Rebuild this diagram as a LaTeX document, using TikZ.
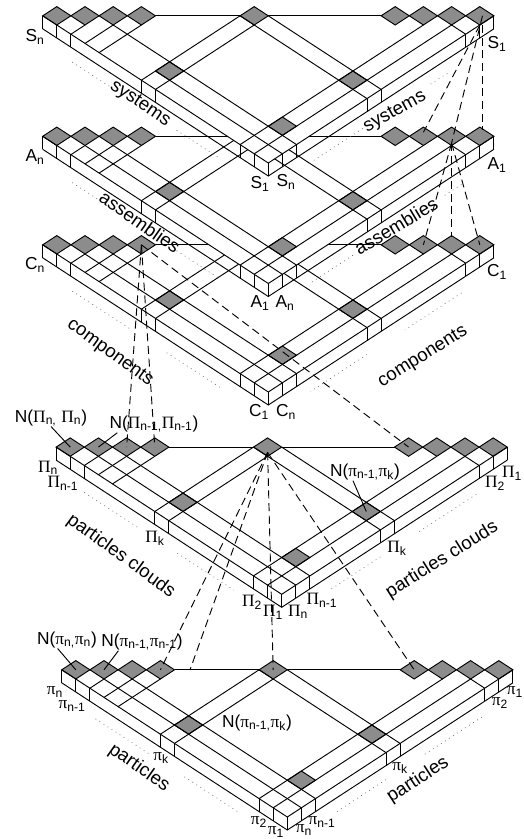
\documentclass[tikz,border=0pt]{standalone}
\usepackage{xcolor}
\usepackage{fontspec}
\setmainfont{Liberation Sans}
\newfontfamily\grk{Liberation Serif}
\usepackage{tikz}

\newcommand{\Pg}{{\grk Π}}
\newcommand{\pg}{{\grk π}}
\newcommand{\dn}[1]{\textsubscript{#1}}

\newcommand{\layer}[5]{%
  \begin{scope}[shift={(#2)}, x={(-10.575pt,6.9pt)}, y={(10.575pt,6.9pt)}]
    \fill[white] (16,0) -- (0,0) -- (0,16) -- cycle;
    \foreach \k in {0,1,2,3,7,12,13,14,15} {
      \draw[cell] (15-\k,\k) -- (16-\k,\k) -- (16-\k,\k+1) -- (15-\k,\k+1) -- cycle;
      \coordinate (#1c\k) at (15.5-\k,\k+.5);
    }
    \foreach \i/\j in {8/1,1/7,1/2} {
      \draw[cell] (\i,\j) -- (\i+1,\j) -- (\i+1,\j+1) -- (\i,\j+1) -- cycle;
      \coordinate (#1x\i\j) at (\i+.5,\j+.5);
    }
    \draw[edge] (16,0) -- (0,0) -- (0,16);
    \draw[edge] ([yshift=-9.75pt]16,0) -- ([yshift=-9.75pt]0,0) -- ([yshift=-9.75pt]0,16);
    \foreach \i in {16,15,14,9,8,2,1,0}
      \draw[edge] (\i,0) -- ++(0pt,-9.75pt);
    \foreach \j in {1,2,7,8,14,15,16}
      \draw[edge] (0,\j) -- ++(0pt,-9.75pt);
    \draw[edge] (12,4) -- (9,7);
    \draw[edge] (8,8) -- (4,12);
    \draw[edge] (14,0) -- (14,1);
    \draw[edge] (13,0) -- (13,2);
    \draw[edge] (12,0) -- (12,3);
    \draw[edge] (9,0) -- (9,7);
    \draw[edge] (8,0) -- (8,7);
    \draw[edge] (2,0) -- (2,13);
    \draw[edge] (1,0) -- (1,14);
    \draw[edge] (0,1) -- (#5,1);
    \draw[edge] (0,2) -- (13,2);
    \draw[edge] (0,7) -- (9,7);
    \draw[edge] (0,8) -- (8,8);
    \draw[edge] (0,14) -- (1,14);
    \foreach \a/\b in {#3}
      \draw[dots] ([yshift=-20.25pt]\a,0) -- ([yshift=-20.25pt]\b,0);
    \foreach \a/\b in {#4}
      \draw[dots] ([yshift=-20.25pt]0,\a) -- ([yshift=-20.25pt]0,\b);
  \end{scope}
}

\begin{document}
\begin{tikzpicture}[
  x=0.75pt, y=-0.75pt,
  edge/.style={draw=black, line width=0.7pt},
  cell/.style={draw=black, fill=black!45, line width=0.7pt},
  dots/.style={draw=black!60, line width=0.5pt, dash pattern=on 0.6pt off 3pt},
  link/.style={draw=black, line width=0.7pt, dash pattern=on 6pt off 3.5pt},
  lab/.style={inner sep=0pt, font=\fontsize{13}{15}\selectfont},
  side/.style={inner sep=0pt, font=\fontsize{14}{16}\selectfont}
]
\useasboundingbox (0,0) rectangle (524,839);

\layer{C}{268.3,392}{13.9/9.8,7.2/3.4}{13.7/9.7,7/3}{14}
\layer{A}{268.3,283.5}{13.9/11.9,6.5/3.4}{13.7/12.5,6/3}{14}
\layer{S}{268.3,163}{13.9/11.2,6.5/3.4}{12.7/11.5,6.7/3}{9}
\layer{Q}{281.7,594.3}{14/10.2,7.4/3.4}{13.8/9.7,7/3.3}{14}
\layer{R}{287.3,817}{13.6/9.7,7.3/3.5}{13.8/9.6,7/3.3}{14}

\node[lab] (sn)   at (35,37)   {S\dn{n}};
\node[lab] (s1)   at (497,44)  {S\dn{1}};
\node[lab] (s1b)  at (260,184) {S\dn{1}};
\node[lab] (snb)  at (286,182) {S\dn{n}};
\node[side, rotate=-34] (sysl) at (140,104) {systems};
\node[side, rotate=29]  (sysr) at (395,112) {systems};

\node[lab] (an)   at (35,157)  {A\dn{n}};
\node[lab] (a1)   at (497,165) {A\dn{1}};
\node[lab] (a1b)  at (260,303) {A\dn{1}};
\node[lab] (anb)  at (285,303) {A\dn{n}};
\node[side, rotate=-35] (assl) at (140,222) {assemblies};
\node[side, rotate=31]  (assr) at (396,226) {assemblies};

\node[lab] (cn)   at (35,265)  {C\dn{n}};
\node[lab] (c1)   at (497,272) {C\dn{1}};
\node[lab] (c1b)  at (259,412) {C\dn{1}};
\node[lab] (cnb)  at (286,412) {C\dn{n}};
\node[side, rotate=-36] (coml) at (110,353) {components};
\node[side, rotate=32]  (comr) at (423,357) {components};

\node[lab] (nqq)  at (51,418)  {N(\Pg\dn{n,} \Pg\dn{n})};
\node[lab] (nqm)  at (154,424) {N(\Pg\dn{n-1,}\Pg\dn{n-1})};
\node[lab] (nqk)  at (365,472) {N(\pg\dn{n-1,}\pg\dn{k})};
\node[lab] (qn)   at (48,468)  {\Pg\dn{n}};
\node[lab] (qm)   at (63,483)  {\Pg\dn{n-1}};
\node[lab] (qk)   at (155,538) {\Pg\dn{k}};
\node[lab] (qkr)  at (397,548) {\Pg\dn{k}};
\node[lab] (q2r)  at (495,483) {\Pg\dn{2}};
\node[lab] (q1r)  at (512,473) {\Pg\dn{1}};
\node[lab] (q2)   at (252,602) {\Pg\dn{2}};
\node[lab] (q1)   at (273,612) {\Pg\dn{1}};
\node[lab] (qnb)  at (298,612) {\Pg\dn{n}};
\node[lab] (qmb)  at (322,600) {\Pg\dn{n-1}};
\node[side, rotate=-36] (pcl) at (121,556) {particles clouds};
\node[side, rotate=32]  (pcr) at (442,560) {particles clouds};

\node[lab] (nrr)  at (67,640)  {N(\pg\dn{n,}\pg\dn{n})};
\node[lab] (nrm)  at (142,642) {N(\pg\dn{n-1,}\pg\dn{n-1})};
\node[lab] (nrk)  at (257,723) {N(\pg\dn{n-1,}\pg\dn{k})};
\node[lab] (rn)   at (55,692)  {\pg\dn{n}};
\node[lab] (rm)   at (72,706)  {\pg\dn{n-1}};
\node[lab] (rk)   at (161,758) {\pg\dn{k}};
\node[lab] (rkr)  at (400,768) {\pg\dn{k}};
\node[lab] (r2r)  at (500,703) {\pg\dn{2}};
\node[lab] (r1r)  at (515,692) {\pg\dn{1}};
\node[lab] (r2)   at (259,822) {\pg\dn{2}};
\node[lab] (r1)   at (276,832) {\pg\dn{1}};
\node[lab] (rnb)  at (304,830) {\pg\dn{n}};
\node[lab] (rmb)  at (322,822) {\pg\dn{n-1}};
\node[side, rotate=-35] (parl) at (139,768) {particles};
\node[side, rotate=33]  (parr) at (418,780) {particles};

% label leaders
\draw[edge] (nqq.south) -- (Qc0);
\draw[edge] ([xshift=6pt]nqm.south west) -- (Qc1);
\draw[edge] ([xshift=-9pt]nqk.south) -- (Qx17);
\draw[edge] ([xshift=-7pt]nrr.south) -- (Rc0);
\draw[edge] ([xshift=13pt]nrm.south west) -- (Rc1);

% links between levels
\coordinate (rtop) at (190,670);
\draw[link] ([yshift=-7pt]Sc15) -- ([yshift=3pt]Ac13);
\draw[link] ([xshift=2pt]Sc15) -- ([yshift=-5pt]Ac14);
\draw[link] ([xshift=2pt,yshift=-7pt]Sc15) -- ([xshift=2pt,yshift=5pt]Ac15);
\draw[link] ([yshift=-5pt]Ac14) -- (Cc13);
\draw[link] ([yshift=-5pt]Ac14) -- ([yshift=6pt]Cc14);
\draw[link] ([yshift=-5pt]Ac14) -- (Cc15);
\draw[link] (Cc3) -- (Qc2);
\draw[link] (Cc3) -- (Qc3);
\draw[link] (Cc3) -- (Qc12);
\draw[link] ([yshift=-4pt]Qc7) -- (Rc3);
\draw[link] ([yshift=-4pt]Qc7) -- (rtop);
\draw[link] ([yshift=-4pt]Qc7) -- (Rc7);
\draw[link] ([yshift=-4pt]Qc7) -- (Rc12);
\end{tikzpicture}
\end{document}
